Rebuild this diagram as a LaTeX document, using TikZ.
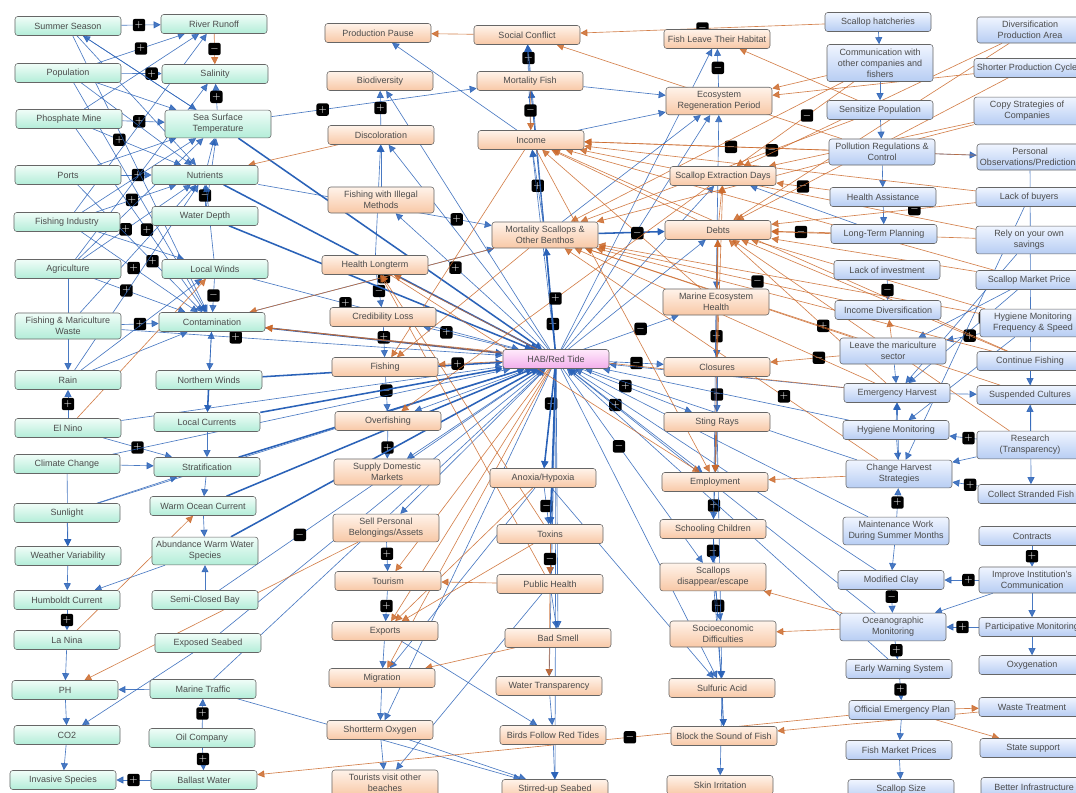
\documentclass[tikz,border=0pt]{standalone}
\usepackage{fontspec}
\setmainfont{Liberation Sans}
\usepackage{tikz}
\usetikzlibrary{arrows.meta,backgrounds}
\definecolor{mintTop}{HTML}{F0FDF8}
\definecolor{mintBot}{HTML}{B3EDD8}
\definecolor{peachTop}{HTML}{FFF3EA}
\definecolor{peachBot}{HTML}{F8C8A6}
\definecolor{skyTop}{HTML}{F0F5FF}
\definecolor{skyBot}{HTML}{B7CDF3}
\definecolor{pinkTop}{HTML}{FFEAFB}
\definecolor{pinkBot}{HTML}{F2AEEB}
\definecolor{linkBlue}{HTML}{2A62B8}
\definecolor{linkOrange}{HTML}{CC6A2C}

\begin{document}
\begin{tikzpicture}[x=0.025cm,y=-0.025cm,
  every node/.style={font=\fontsize{6.4}{7.8}\selectfont,text=black!70},
  box/.style={draw=black!60,rounded corners=2pt,minimum width=2.65cm,
              minimum height=0.475cm,inner xsep=1.6pt,inner ysep=3pt,align=center},
  envbox/.style={box,top color=mintTop,bottom color=mintBot},
  impbox/.style={box,top color=peachTop,bottom color=peachBot},
  actbox/.style={box,top color=skyTop,bottom color=skyBot},
  habbox/.style={box,top color=pinkTop,bottom color=pinkBot},
  link/.style={-{Triangle[length=5pt,width=5pt]},line width=0.45pt},
  bluelink/.style={link,draw=linkBlue,opacity=0.85},
  boldlink/.style={link,draw=linkBlue,line width=1.1pt},
  orangelink/.style={link,draw=linkOrange,opacity=0.85},
  badge/.style={fill=black,text=white,rounded corners=1.5pt,minimum size=0.31cm,
                inner sep=0pt,opacity=1,font=\bfseries\fontsize{7}{7}\selectfont},
]
\useasboundingbox (0,0) rectangle (1076,793);

% environmental drivers, left
\node[envbox] (sumseason) at (68,26) {Summer Season};
\node[envbox] (population) at (68,73) {Population};
\node[envbox] (phosmine) at (69,119) {Phosphate Mine};
\node[envbox] (ports) at (68,175) {Ports};
\node[envbox] (fishind) at (67,222) {Fishing Industry};
\node[envbox] (agri) at (68,269) {Agriculture};
\node[envbox] (fishwaste) at (68,326) {Fishing \& Mariculture\\Waste};
\node[envbox] (rain) at (68,380) {Rain};
\node[envbox] (elnino) at (68,428) {El Nino};
\node[envbox] (climchange) at (67,464) {Climate Change};
\node[envbox] (sunlight) at (67,513) {Sunlight};
\node[envbox] (weathervar) at (68,556) {Weather Variability};
\node[envbox] (humboldt) at (67,600) {Humboldt Current};
\node[envbox] (lanina) at (67,640) {La Nina};
\node[envbox] (ph) at (65,690) {PH};
\node[envbox] (cotwo) at (67,735) {CO2};
\node[envbox] (invasive) at (63,780) {Invasive Species};

% environmental drivers, second column
\node[envbox] (runoff) at (214,24) {River Runoff};
\node[envbox] (salinity) at (215,74) {Salinity};
\node[envbox] (sst) at (218,124) {Sea Surface\\Temperature};
\node[envbox] (nutrients) at (205,175) {Nutrients};
\node[envbox] (depth) at (205,216) {Water Depth};
\node[envbox] (lwinds) at (215,269) {Local Winds};
\node[envbox] (contam) at (212,322) {Contamination};
\node[envbox] (nwinds) at (209,380) {Northern Winds};
\node[envbox] (lcurrents) at (207,422) {Local Currents};
\node[envbox] (strat) at (207,467) {Stratification};
\node[envbox] (warmcur) at (203,506) {Warm Ocean Current};
\node[envbox] (warmspecies) at (205,551) {Abundance Warm Water\\Species};
\node[envbox] (semibay) at (205,600) {Semi-Closed Bay};
\node[envbox] (seabed) at (208,643) {Exposed Seabed};
\node[envbox] (traffic) at (203,689) {Marine Traffic};
\node[envbox] (oilco) at (202,738) {Oil Company};
\node[envbox] (ballast) at (204,780) {Ballast Water};

% impacts, third column
\node[impbox] (prodpause) at (378,33) {Production Pause};
\node[impbox] (biodiv) at (380,81) {Biodiversity};
\node[impbox] (discolor) at (381,135) {Discoloration};
\node[impbox] (illegal) at (381,200) {Fishing with Illegal\\Methods};
\node[impbox] (healthlt) at (375,265) {Health Longterm};
\node[impbox] (credloss) at (383,317) {Credibility Loss};
\node[impbox] (fishing) at (385,367) {Fishing};
\node[impbox] (overfish) at (388,421) {Overfishing};
\node[impbox] (supplydom) at (387,472) {Supply Domestic\\Markets};
\node[impbox] (sellassets) at (386,528) {Sell Personal\\Belongings/Assets};
\node[impbox] (tourism) at (388,581) {Tourism};
\node[impbox] (exports) at (385,631) {Exports};
\node[impbox] (migration) at (382,678) {Migration};
\node[impbox] (stoxygen) at (380,730) {Shortterm Oxygen};
\node[impbox] (tourists) at (385,783) {Tourists visit other\\beaches};

% impacts, centre
\node[impbox] (socconf) at (527,35) {Social Conflict};
\node[impbox] (mortfish) at (530,81) {Mortality Fish};
\node[impbox] (income) at (531,140) {Income};
\node[impbox] (mortscal) at (545,235) {Mortality Scallops \&\\Other Benthos};
\node[habbox] (hab) at (556,359) {HAB/Red Tide};
\node[impbox] (anoxia) at (543,478) {Anoxia/Hypoxia};
\node[impbox] (toxins) at (550,534) {Toxins};
\node[impbox] (pubhealth) at (550,584) {Public Health};
\node[impbox] (badsmell) at (558,638) {Bad Smell};
\node[impbox] (transp) at (549,686) {Water Transparency};
\node[impbox] (birds) at (553,735) {Birds Follow Red Tides};
\node[impbox] (seabedstir) at (555,789) {Stirred-up Seabed};

% impacts, fifth column
\node[impbox] (fishleave) at (717,39) {Fish Leave Their Habitat};
\node[impbox] (regen) at (719,101) {Ecosystem\\Regeneration Period};
\node[impbox] (extdays) at (723,176) {Scallop Extraction Days};
\node[impbox] (debts) at (718,230) {Debts};
\node[impbox] (meh) at (716,302) {Marine Ecosystem\\Health};
\node[impbox] (closures) at (717,367) {Closures};
\node[impbox] (stingrays) at (717,422) {Sting Rays};
\node[impbox] (employment) at (715,482) {Employment};
\node[impbox] (schooling) at (713,529) {Schooling Children};
\node[impbox] (escape) at (713,577) {Scallops\\disappear/escape};
\node[impbox] (socioecon) at (723,634) {Socioeconomic\\Difficulties};
\node[impbox] (sulfuric) at (722,688) {Sulfuric Acid};
\node[impbox] (sound) at (724,736) {Block the Sound of Fish};
\node[impbox] (skin) at (720,785) {Skin Irritation};

% responses, sixth column
\node[actbox] (hatcheries) at (878,22) {Scallop hatcheries};
\node[actbox] (commcomp) at (880,63) {Communication with\\other companies and\\fishers};
\node[actbox] (sensitize) at (880,110) {Sensitize Population};
\node[actbox] (pollreg) at (882,152) {Pollution Regulations \&\\Control};
\node[actbox] (healthas) at (883,197) {Health Assistance};
\node[actbox] (ltplan) at (884,234) {Long-Term Planning};
\node[actbox] (lackinv) at (887,270) {Lack of investment};
\node[actbox] (incdiv) at (888,310) {Income Diversification};
\node[actbox] (leave) at (893,351) {Leave the mariculture\\sector};
\node[actbox] (emharvest) at (897,393) {Emergency Harvest};
\node[actbox] (hygmon) at (896,430) {Hygiene Monitoring};
\node[actbox] (changeharv) at (899,474) {Change Harvest\\Strategies};
\node[actbox] (maintenance) at (896,531) {Maintenance Work\\During Summer Months};
\node[actbox] (clay) at (891,580) {Modified Clay};
\node[actbox] (oceanmon) at (893,627) {Oceanographic\\Monitoring};
\node[actbox] (earlywarn) at (899,669) {Early Warning System};
\node[actbox] (officialplan) at (902,710) {Official Emergency Plan};
\node[actbox] (fishprices) at (899,750) {Fish Market Prices};
\node[actbox] (scalsize) at (901,789) {Scallop Size};

% responses, right column
\node[actbox] (diversprod) at (1030,30) {Diversification\\Production Area};
\node[actbox] (shortercycle) at (1027,68) {Shorter Production Cycle};
\node[actbox] (copystrat) at (1027,111) {Copy Strategies of\\Companies};
\node[actbox] (personalobs) at (1030,157) {Personal\\Observations/Predictions};
\node[actbox] (lackbuyers) at (1029,197) {Lack of buyers};
\node[actbox] (savings) at (1029,240) {Rely on your own\\savings};
\node[actbox] (marketprice) at (1029,280) {Scallop Market Price};
\node[actbox] (hygfreq) at (1033,323) {Hygiene Monitoring\\Frequency \& Speed};
\node[actbox] (contfish) at (1030,361) {Continue Fishing};
\node[actbox] (suspended) at (1030,395) {Suspended Cultures};
\node[actbox] (research) at (1030,445) {Research\\(Transparency)};
\node[actbox] (stranded) at (1031,494) {Collect Stranded Fish};
\node[actbox] (contracts) at (1032,536) {Contracts};
\node[actbox] (instcomm) at (1032,580) {Improve Institution's\\Communication};
\node[actbox] (partmon) at (1032,627) {Participative Monitoring};
\node[actbox] (oxygenation) at (1032,665) {Oxygenation};
\node[actbox] (waste) at (1032,707) {Waste Treatment};
\node[actbox] (statesupport) at (1033,748) {State support};
\node[actbox] (infrastructure) at (1034,787) {Better Infrastructure};

\begin{scope}[on background layer]
\fill[white] (0,0) rectangle (1076,793);
% positive and negative blue links
\foreach \a/\b/\s/\p in {sumseason/runoff/+/0.45, population/runoff/+/0.5,
  population/salinity/+/0.75, sst/salinity/+/0.5, phosmine/nutrients/+/0.3,
  phosmine/sst/+/0.4, ports/nutrients/+/0.55, fishind/nutrients/+/0.45,
  agri/nutrients/+/0.4, fishind/contam/+/0.45, agri/contam/+/0.35,
  fishwaste/contam/+/0.5, elnino/rain/+/0.5, elnino/strat/+/0.5,
  humboldt/lanina/+/0.5, oilco/traffic/+/0.5, oilco/ballast/+/0.5,
  ballast/invasive/+/0.5, lwinds/contam/-/0.5, depth/nutrients/-/0.5,
  sst/mortfish/+/0.25, discolor/biodiv/+/0.5, mortfish/socconf/+/0.5,
  hab/mortscal/+/0.25, mortscal/income/+/0.5, hab/anoxia/+/0.35,
  anoxia/toxins/-/0.5, meh/closures/+/0.5, closures/stingrays/-/0.5,
  employment/schooling/+/0.5, schooling/escape/-/0.5, escape/socioecon/-/0.5,
  regen/fishleave/-/0.5, oceanmon/earlywarn/+/0.5, earlywarn/officialplan/+/0.5,
  partmon/oceanmon/+/0.5, contracts/instcomm/+/0.5, maintenance/changeharv/+/0.5,
  marketprice/emharvest/+/0.3, hygfreq/leave/+/0.3, stranded/changeharv/+/0.3,
  research/hygmon/+/0.3, lackinv/incdiv/-/0.5, credloss/fishing/+/0.35,
  healthlt/credloss/-/0.5, fishing/overfish/-/0.4, overfish/supplydom/+/0.6,
  sellassets/tourism/+/0.4, tourism/exports/+/0.5, hab/credloss/+/0.75,
  hab/illegal/+/0.6, hab/meh/-/0.6, hab/closures/-/0.5, hab/stingrays/+/0.4,
  hab/employment/+/0.35, hab/escape/-/0.4, contam/mortscal/+/0.55,
  nutrients/mortscal/+/0.85, instcomm/clay/+/0.3, clay/oceanmon/-/0.3,
  lwinds/hab/+/0.35, fishwaste/hab/+/0.3, semibay/hab/-/0.25,
  phosmine/contam/+/0.55, ports/contam/+/0.6}
  \draw[bluelink] (\a) -- node[badge,pos=\p]{$\s$} (\b);
% plain blue links
\foreach \a/\b in {sumseason/sst, sumseason/nutrients, population/nutrients,
  population/sst, phosmine/runoff, ports/sst, fishind/sst, fishind/runoff,
  agri/rain, agri/salinity, fishwaste/nutrients, rain/lwinds, rain/nutrients,
  climchange/weathervar, sunlight/weathervar, weathervar/humboldt, lanina/ph,
  ph/cotwo, cotwo/invasive, seabed/cotwo, traffic/ph, warmspecies/humboldt,
  sunlight/strat, climchange/strat, lcurrents/strat, strat/warmcur,
  warmcur/warmspecies, semibay/warmspecies, sst/sumseason, nutrients/sst,
  depth/sst, lwinds/nutrients, nwinds/contam, contam/nwinds, traffic/seabedstir,
  exports/birds, stoxygen/seabedstir, stoxygen/tourists, migration/stoxygen,
  exports/migration, income/prodpause, illegal/discolor, healthlt/discolor,
  pubhealth/badsmell, transp/birds, anoxia/sulfuric, escape/sulfuric,
  sulfuric/sound, sulfuric/skin, mortscal/regen, meh/regen, ltplan/extdays,
  stingrays/employment, pollreg/personalobs, hygmon/changeharv,
  maintenance/clay, officialplan/fishprices, fishprices/scalsize,
  partmon/oxygenation, contfish/suspended, research/suspended,
  emharvest/suspended, changeharv/emharvest, hygmon/emharvest,
  commcomp/sensitize, sensitize/pollreg, pollreg/healthas, healthas/ltplan,
  hatcheries/commcomp, mortscal/mortfish, mortscal/socconf, income/socconf,
  hab/mortfish, hab/income, hab/toxins, hab/pubhealth, hab/badsmell,
  hab/transp, hab/sulfuric, hab/regen, hab/debts, hab/extdays, hab/fishleave,
  clay/hab, oceanmon/hab, hab/discolor, hab/biodiv, hab/supplydom,
  hab/sellassets, hab/overfish, closures/employment, sunlight/hab, elnino/hab,
  climchange/hab, seabed/hab, traffic/hab, birds/seabedstir, marketprice/leave,
  instcomm/partmon, instcomm/oceanmon, lackbuyers/changeharv, savings/emharvest,
  personalobs/stranded, hygfreq/hygmon, research/changeharv, meh/escape,
  income/regen, mortfish/regen, debts/meh, stingrays/sulfuric, pubhealth/tourists,
  anoxia/migration, hab/seabedstir, hab/stoxygen, earlywarn/hab, leave/emharvest,
  emharvest/hab, hygmon/hab, changeharv/hab, maintenance/hab, schooling/sound,
  population/contam, sumseason/contam, fishind/lwinds, agri/sst, rain/contam}
  \draw[bluelink] (\a) -- (\b);
% heavy links into the bloom
\foreach \a/\b in {sst/hab, nutrients/hab, contam/hab, strat/hab, warmcur/hab,
  lcurrents/hab, nwinds/hab, warmspecies/hab, depth/hab, nwinds/lcurrents,
  hab/mortscal, hab/anoxia, mortscal/debts, hab/toxins}
  \draw[boldlink] (\a) -- (\b);
% orange links with a sign
\foreach \a/\b/\s/\p in {runoff/salinity/-/0.5, mortfish/income/-/0.5,
  ltplan/debts/-/0.5, hatcheries/socconf/-/0.5, officialplan/ballast/-/0.37,
  toxins/pubhealth/-/0.5, commcomp/extdays/-/0.4, sensitize/mortscal/-/0.3,
  pollreg/income/-/0.4, incdiv/mortscal/-/0.35, hab/fishing/+/0.7,
  lackbuyers/debts/-/0.3, healthas/extdays/-/0.5, leave/closures/-/0.3,
  changeharv/mortscal/+/0.3, emharvest/debts/+/0.4, meh/income/-/0.4,
  extdays/overfish/+/0.5}
  \draw[orangelink] (\a) -- node[badge,pos=\p]{$\s$} (\b);
% plain orange links
\foreach \a/\b in {socconf/prodpause, pubhealth/transp, elnino/lwinds,
  lanina/warmcur, sellassets/ph, discolor/nutrients, debts/extdays,
  pollreg/socconf, diversprod/extdays, diversprod/debts, shortercycle/debts,
  copystrat/mortscal, personalobs/income, savings/debts, emharvest/mortscal,
  leave/mortscal, hygfreq/mortscal, contfish/income, research/debts,
  oceanmon/socioecon, waste/sound, officialplan/statesupport,
  healthlt/employment, debts/employment, income/employment, pubhealth/tourism,
  toxins/exports, badsmell/migration, anoxia/exports, hab/tourism,
  toxins/healthlt, pubhealth/healthlt, mortscal/contam, hab/contam,
  emharvest/contam, closures/extdays, meh/debts, closures/debts, leave/incdiv,
  marketprice/income, contfish/mortscal, suspended/mortscal, commcomp/regen,
  hab/healthlt, debts/income, mortscal/fishing, income/fishing,
  sensitize/fishleave, officialplan/waste, stingrays/employment,
  changeharv/employment, oceanmon/escape, hab/exports, hab/migration,
  shortercycle/regen, copystrat/extdays, lackbuyers/income, savings/income,
  marketprice/debts, hygfreq/debts, contfish/debts, commcomp/mortscal}
  \draw[orangelink] (\a) -- (\b);
\end{scope}
\end{tikzpicture}
\end{document}
